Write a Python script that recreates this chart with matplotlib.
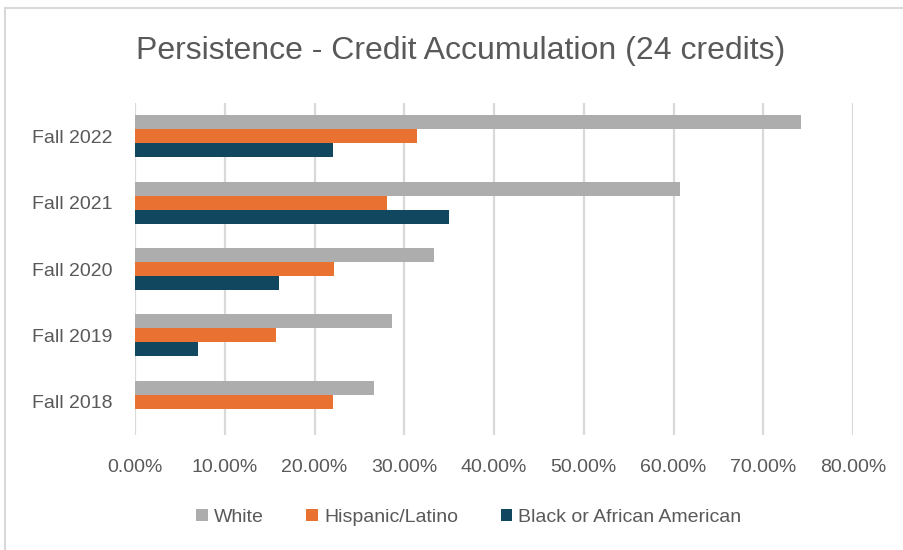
import matplotlib.pyplot as plt
import numpy as np
from matplotlib.patches import Rectangle

terms = ["Fall 2018", "Fall 2019", "Fall 2020", "Fall 2021", "Fall 2022"]
white = [0.266, 0.286, 0.333, 0.607, 0.742]
hispanic = [0.221, 0.157, 0.222, 0.281, 0.314]
black = [0.0, 0.070, 0.160, 0.350, 0.221]

plt.rcParams['font.family'] = ['Liberation Sans', 'DejaVu Sans']
txt = '#595959'

fig = plt.figure(figsize=(9.04, 5.5), dpi=100)
ax = fig.add_axes([135 / 904, 1 - 435 / 550, 718 / 904, 332 / 550])

y = np.arange(len(terms))
h = 0.21
ax.barh(y + h, white, h, color='#ADADAD', label='White', zorder=3)
ax.barh(y, hispanic, h, color='#E97132', label='Hispanic/Latino', zorder=3)
ax.barh(y - h, black, h, color='#124760', label='Black or African American', zorder=3)

ax.set_xlim(0, 0.8)
ax.set_ylim(-0.5, 4.5)
ax.set_xticks(np.arange(0, 0.81, 0.1))
ax.set_xticklabels([f"{v * 100:.2f}%" for v in np.arange(0, 0.81, 0.1)])
ax.set_yticks(y)
ax.set_yticklabels(terms)
ax.tick_params(axis='both', length=0, labelsize=14, colors=txt)
ax.tick_params(axis='x', pad=17)
ax.tick_params(axis='y', pad=16.5)
ax.grid(axis='x', color='#D9D9D9', linewidth=1.6, zorder=0)
for s in ax.spines.values():
    s.set_visible(False)

fig.suptitle("Persistence - Credit Accumulation (24 credits)", x=0.51, y=0.935,
             fontsize=23, color=txt)

ax.legend(loc='upper center', bbox_to_anchor=(0.465, -0.17), ncol=3, frameon=False,
          fontsize=14, labelcolor=txt, handlelength=0.6, handleheight=0.6,
          handletextpad=0.3, columnspacing=2.2)

# chart frame
fig.add_artist(Rectangle((5 / 904, -0.1), 1.1, 1 - 8 / 550 + 0.1, transform=fig.transFigure,
                         fill=False, edgecolor='#D9D9D9', linewidth=1.5))

fig.savefig("out.png", dpi=100)
